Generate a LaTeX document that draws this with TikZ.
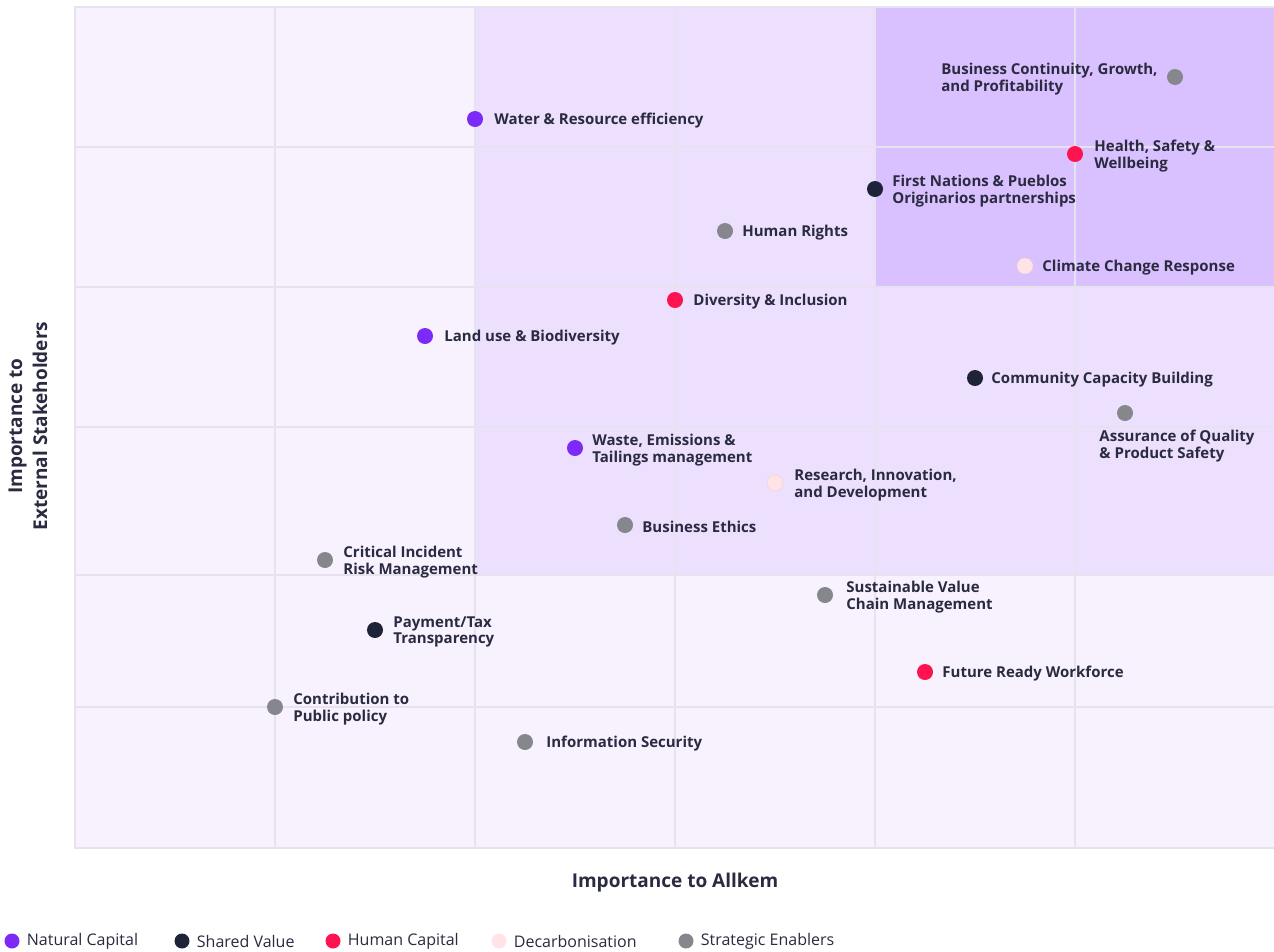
\documentclass[tikz,border=0pt]{standalone}
\usepackage{fontspec}
\setmainfont{Open Sans}
\usetikzlibrary{positioning}

\definecolor{natural}{HTML}{7C2AF8}
\definecolor{shared}{HTML}{1F2338}
\definecolor{human}{HTML}{FF1250}
\definecolor{decarb}{HTML}{FFE3E7}
\definecolor{decarbline}{HTML}{F6CDD4}
\definecolor{strategic}{HTML}{85878C}
\definecolor{ink}{HTML}{2A2A40}
\definecolor{bglight}{HTML}{F8F2FE}
\definecolor{bgmid}{HTML}{EDDFFE}
\definecolor{bgdark}{HTML}{D9C0FE}
\definecolor{gridline}{HTML}{E7E3EE}

\tikzset{
  dot/.style={circle, minimum size=16pt, inner sep=0pt},
  legdot/.style={circle, minimum size=15pt, inner sep=0pt},
  issue/.style={font=\bfseries\fontsize{15}{16.5}\selectfont, text=ink, align=left, inner sep=1pt, yshift=-2pt},
  legtxt/.style={font=\fontsize{16}{18}\selectfont, text=ink, inner sep=1pt},
  axistitle/.style={font=\bfseries\fontsize{19}{25}\selectfont, text=ink, align=center},
  gridl/.style={draw=gridline, line width=1.5pt}
}

\begin{document}
\begin{tikzpicture}[x=1pt, y=-1pt]
        \useasboundingbox (0,0) rectangle (1274,951);
        % quadrants
        \fill[bglight] (75,7) rectangle (1274,848);
        \fill[bgmid] (475,7) rectangle (1274,575);
        \fill[bgdark] (875,7) rectangle (1274,287);
        \foreach \x in {275,475,675,875,1075}
          \draw[gridl] (\x,7) -- (\x,848);
        \foreach \y in {147,287,427,575,707}
          \draw[gridl] (75,\y) -- (1274,\y);
        \draw[gridl, line width=2pt] (1274,7) -- (75,7) -- (75,848) -- (1274,848);

        % issues
        \node[dot, fill=strategic] (bizcont) at (1175,77) {};
        \node[issue, left=8pt of bizcont] (bizcont-l) {Business Continuity, Growth,\\and Profitability};
        \node[dot, fill=natural] (water) at (475,119) {};
        \node[issue, right=10pt of water] (water-l) {Water \& Resource efficiency};
        \node[dot, fill=human] (health) at (1075,154) {};
        \node[issue, right=10pt of health] (health-l) {Health, Safety \&\\Wellbeing};
        \node[dot, fill=shared] (nations) at (875,189) {};
        \node[issue, right=8pt of nations] (nations-l) {First Nations \& Pueblos\\Originarios partnerships};
        \node[dot, fill=strategic] (rights) at (725,231) {};
        \node[issue, right=8pt of rights] (rights-l) {Human Rights};
        \node[dot, fill=decarb, draw=decarbline, thin] (climate) at (1025,266) {};
        \node[issue, right=8pt of climate] (climate-l) {Climate Change Response};
        \node[dot, fill=human] (divers) at (675,300) {};
        \node[issue, right=9pt of divers] (divers-l) {Diversity \& Inclusion};
        \node[dot, fill=natural] (landuse) at (425,336) {};
        \node[issue, right=10pt of landuse] (landuse-l) {Land use \& Biodiversity};
        \node[dot, fill=shared] (commun) at (975,378) {};
        \node[issue, right=7pt of commun] (commun-l) {Community Capacity Building};
        \node[dot, fill=strategic] (assure) at (1125,413) {};
        \node[issue, below=6pt of assure, xshift=52pt] (assure-l) {Assurance of Quality\\\& Product Safety};
        \node[dot, fill=natural] (waste) at (575,448) {};
        \node[issue, right=8pt of waste] (waste-l) {Waste, Emissions \&\\Tailings management};
        \node[dot, fill=decarb, draw=decarbline, thin] (research) at (775,483) {};
        \node[issue, right=10pt of research] (research-l) {Research, Innovation,\\and Development};
        \node[dot, fill=strategic] (ethics) at (625,525) {};
        \node[issue, right=8pt of ethics] (ethics-l) {Business Ethics};
        \node[dot, fill=strategic] (incident) at (325,560) {};
        \node[issue, right=9pt of incident] (incident-l) {Critical Incident\\Risk Management};
        \node[dot, fill=strategic] (supply) at (825,595) {};
        \node[issue, right=12pt of supply] (supply-l) {Sustainable Value\\Chain Management};
        \node[dot, fill=shared] (payment) at (375,630) {};
        \node[issue, right=9pt of payment] (payment-l) {Payment/Tax\\Transparency};
        \node[dot, fill=human] (future) at (925,672) {};
        \node[issue, right=8pt of future] (future-l) {Future Ready Workforce};
        \node[dot, fill=strategic] (policy) at (275,707) {};
        \node[issue, right=9pt of policy] (policy-l) {Contribution to\\Public policy};
        \node[dot, fill=strategic] (infosec) at (525,742) {};
        \node[issue, right=12pt of infosec] (infosec-l) {Information Security};

        % axis titles
        \node[axistitle] (xtitle) at (675,883) {Importance to Allkem};
        \node[axistitle, rotate=90] (ytitle) at (28,426) {Importance to\\External Stakeholders};

        % legend
        \node[legdot, fill=natural] (leg-nat) at (12,941) {};
        \node[legtxt, right=6pt of leg-nat] (leg-nat-l) {Natural Capital};
        \node[legdot, fill=shared] (leg-sha) at (182,941) {};
        \node[legtxt, right=6pt of leg-sha] (leg-sha-l) {Shared Value};
        \node[legdot, fill=human] (leg-hum) at (333,941) {};
        \node[legtxt, right=6pt of leg-hum] (leg-hum-l) {Human Capital};
        \node[legdot, fill=decarb] (leg-dec) at (499,941) {};
        \node[legtxt, right=6pt of leg-dec] (leg-dec-l) {Decarbonisation};
        \node[legdot, fill=strategic] (leg-str) at (686,941) {};
        \node[legtxt, right=6pt of leg-str] (leg-str-l) {Strategic Enablers};
\end{tikzpicture}
\end{document}
